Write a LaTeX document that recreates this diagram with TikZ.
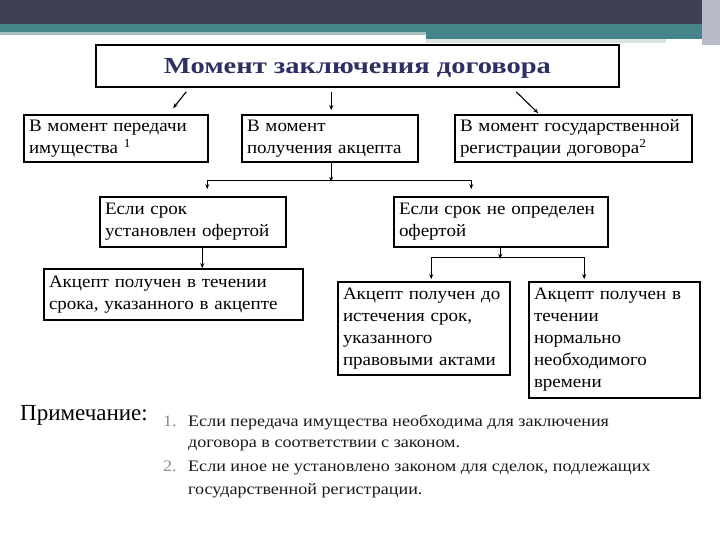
\documentclass[tikz,border=0pt]{standalone}
\usepackage{fontspec}
\setmainfont{Liberation Serif}
\newfontfamily\boxfont[FakeStretch=1.085]{Liberation Serif}
\newfontfamily\titlefont[FakeStretch=1.24]{Liberation Serif}
\newfontfamily\notefont[FakeStretch=1.13]{Liberation Serif}
\usetikzlibrary{arrows.meta,calc}
\definecolor{topdark}{HTML}{3E4152}
\definecolor{teal1}{HTML}{45858A}
\definecolor{tealpale}{HTML}{A9C0C3}
\definecolor{titleblue}{HTML}{2E3064}
\definecolor{numgray}{HTML}{8A8A8A}
\definecolor{sidegray}{HTML}{B9BAC8}
\begin{document}
\begin{tikzpicture}[x=1pt,y=-1pt,
  box/.style={draw,line width=1.6pt,inner xsep=5pt,inner ysep=2pt,align=left,
    font=\boxfont\fontsize{17.5}{22}\selectfont},
  arr/.style={line width=1.1pt,-{Stealth[length=5pt,width=4pt]}},
  ln/.style={line width=1.1pt},
  notetext/.style={anchor=base west,inner sep=0,font=\notefont\fontsize{16}{18}\selectfont,text=black!90}]
\useasboundingbox (0,0) rectangle (720,540);
\fill[white] (0,0) rectangle (720,540);
% top band
\fill[topdark] (0,0) rectangle (720,24);
\fill[teal1] (0,24) rectangle (702,32);
\fill[tealpale] (0,32) rectangle (426,35);
\fill[teal1] (426,32) rectangle (702,39);
\fill[tealpale!45] (426,39) rectangle (666,43);
\fill[sidegray] (702,0) rectangle (720,45);
% boxes
\node[draw,line width=1.6pt,minimum width=523pt,minimum height=42pt,inner sep=0,text depth=0pt,
  font=\titlefont\bfseries\fontsize{23}{25}\selectfont,text=titleblue] (t) at (357.5,66) {Момент заключения договора};
\node[box,text width=174pt,minimum height=47pt] (a) at (116,138.5) {В момент передачи\\имущества \textsuperscript{1}};
\node[box,text width=166pt,minimum height=47pt] (b) at (330,138.5) {В момент\\получения акцепта};
\node[box,text width=227pt,minimum height=47pt] (c) at (573.5,138.5) {В момент государственной\\регистрации договора\textsuperscript{2}};
\node[box,text width=176pt,minimum height=50pt] (d) at (193,222) {Если срок\\установлен офертой};
\node[box,text width=204pt,minimum height=50pt] (e) at (501,222) {Если срок не определен\\офертой};
\node[box,text width=249pt,minimum height=51pt] (f) at (173.5,294.5) {Акцепт получен в течении\\срока, указанного в акцепте};
\node[box,text width=162pt,minimum height=93pt] (g) at (424,328.5) {Акцепт получен до\\истечения срок,\\указанного\\правовыми актами};
\node[box,text width=161pt,minimum height=116pt] (h) at (614.5,340) {Акцепт получен в\\течении\\нормально\\необходимого\\времени};
% connectors
\draw[arr] ($(t.south west)+(91,4)$) -- ($(a.north west)+(150,-6)$);
\draw[arr] ($(t.south west)+(236,4)$) -- ($(b.north west)+(90,-4)$);
\draw[arr] ($(t.south west)+(421,4)$) -- ($(c.north west)+(84,-1)$);
\coordinate (s1) at ($(b.south west)+(90,19)$);
\coordinate (s1l) at ($(d.north west)+(108,-16)$);
\coordinate (s1r) at ($(e.north west)+(78,-16)$);
\draw[arr] ($(b.south west)+(90,0)$) -- (s1);
\draw[ln] (s1l) -- (s1r);
\draw[arr] (s1l) -- ($(d.north west)+(108,-7)$);
\draw[arr] (s1r) -- ($(e.north west)+(78,-7)$);
\draw[arr] ($(d.south west)+(103,0)$) -- ($(f.north west)+(159,0)$);
\coordinate (s2) at ($(e.south west)+(107,11)$);
\coordinate (s2l) at ($(g.north west)+(94,-24)$);
\coordinate (s2r) at ($(h.north west)+(56,-24)$);
\draw[arr] ($(e.south west)+(107,0)$) -- (s2);
\draw[ln] (s2l) -- (s2r);
\draw[arr] (s2l) -- ($(g.north west)+(94,-2)$);
\draw[arr] (s2r) -- ($(h.north west)+(56,-2)$);
% note
\node[anchor=base west,inner sep=0,font=\fontsize{23}{26}\selectfont] (pn) at (20,420) {Примечание:};
\node[notetext,text=numgray] (n1) at (163,426) {1.};
\node[notetext] (l1) at (188,426) {Если передача имущества необходима для заключения};
\node[notetext] (l2) at (188,447) {договора в соответствии с законом.};
\node[notetext,text=numgray] (n2) at (163,471) {2.};
\node[notetext] (l3) at (188,471) {Если иное не установлено законом для сделок, подлежащих};
\node[notetext] (l4) at (188,494) {государственной регистрации.};
\end{tikzpicture}
\end{document}
